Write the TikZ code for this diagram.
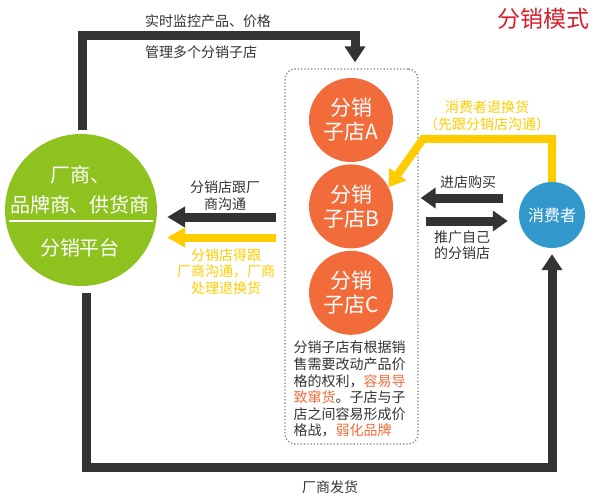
\documentclass[tikz,border=0pt]{standalone}
\usepackage{fontspec}
\setmainfont{Noto Sans CJK SC}
\usetikzlibrary{arrows.meta,positioning,calc}
\definecolor{inkgray}{HTML}{333333}
\definecolor{platgreen}{HTML}{8DC21F}
\definecolor{shoporange}{HTML}{F26B3A}
\definecolor{consblue}{HTML}{3399CC}
\definecolor{retyellow}{HTML}{FFCC00}
\definecolor{titlered}{HTML}{D81E2C}
\newcommand{\hl}[1]{{\color{shoporange}#1}}

\begin{document}
\begin{tikzpicture}[
  x=1pt, y=-1pt,
  every node/.style={inner sep=0pt, align=center, text=inkgray, font=\fontsize{14}{17}\selectfont},
  shop/.style={circle, fill=shoporange, minimum size=84pt, text=white, font=\fontsize{21}{24}\selectfont},
  bar/.style={draw=inkgray, line width=9pt, line join=miter, -{Triangle[length=16pt,width=20pt]}},
  retbar/.style={bar, draw=retyellow, line width=8pt},
  platlabel/.style={text=white, font=\fontsize{20}{30}\selectfont}
]
\useasboundingbox (0,0) rectangle (598,503);

\node[text=titlered, font=\fontsize{23}{26}\selectfont] (title) at (543,19) {分销模式};

\node[circle, fill=platgreen, minimum size=152pt] (plat) at (81,210) {};
\node[platlabel] (platname) at (80,190) {厂商、\\品牌商、供货商};
\draw[white, line width=1.2pt] ($(plat.center)+(-72,11)$) -- ($(plat.center)+(72,11)$);
\node[platlabel] (platrole) at (80,248) {分销平台};

\node[draw=gray, dotted, line width=1.3pt, rounded corners=10pt,
      minimum width=133pt, minimum height=375pt] (group) at (351.5,256.5) {};
\node[shop] (shopA) at (351,120) {分销\\子店A};
\node[shop, below=2pt of shopA] (shopB) {分销\\子店B};
\node[shop, below=2pt of shopB] (shopC) {分销\\子店C};
\node[below=6pt of shopC, text width=115pt, align=left, font=\fontsize{14}{16.6}\selectfont] (desc)
  {分销子店有根据销\\售需要改动产品价\\格的权利，\hl{容易导}\\\hl{致窜货}。子店与子\\店之间容易形成价\\格战，\hl{弱化品牌}};

\node[circle, fill=consblue, minimum size=66pt, text=white, font=\fontsize{16}{19}\selectfont] (cons) at (552,215) {消费者};

\coordinate (topR) at (355,36);
\draw[bar] ([xshift=1.5pt,yshift=4pt]plat.north) |- (topR) -- ([xshift=3.5pt,yshift=6pt]group.north);
\node (watch) at (208,21) {实时监控产品、价格};
\node[anchor=west] (manage) at (145,52) {管理多个分销子店};

\coordinate (botR) at (552,467.5);
\draw[bar] ([xshift=5pt,yshift=-7pt]plat.south) |- (botR) -- ([yshift=-6pt]cons.south);
\node (ship) at (330,487) {厂商发货};

\coordinate (retbend) at (423,139);
\draw[retbar] (cons.north) |- (retbend) -- (shopB.27);
\node[text=retyellow] (retlabel) at (487,116) {消费者退换货\\（先跟分销店沟通）};

\coordinate (askS) at ($(group.west)+(-8,-39.5)$);
\coordinate (askE) at ($(plat.east)+(10,7)$);
\coordinate (retS) at ($(askS)+(0,20.5)$);
\coordinate (retE) at ($(askE)+(0,20.5)$);
\draw[bar, -{Triangle[length=18pt,width=20pt]}] (askS) -- (askE);
\draw[retbar, -{Triangle[length=18pt,width=19pt]}] (retS) -- (retE);
\node (asklabel) at (225,195.5) {分销店跟厂\\商沟通};
\node[text=retyellow, font=\fontsize{14}{16.5}\selectfont] (retnote) at (226,271.5) {分销店得跟\\厂商沟通，厂商\\处理退换货};

\coordinate (buyS) at ($(cons.west)+(-16,-17)$);
\coordinate (buyE) at ($(group.east)+(2,-58.5)$);
\coordinate (promoS) at ($(group.east)+(7,-35.5)$);
\coordinate (promoE) at ($(cons.west)+(-11,6)$);
\draw[bar, -{Triangle[length=15pt,width=20pt]}] (buyS) -- (buyE);
\draw[bar, -{Triangle[length=15pt,width=20pt]}] (promoS) -- (promoE);
\node (buylabel) at (468,182) {进店购买};
\node[anchor=west, align=left, font=\fontsize{14}{16}\selectfont] (promolabel) at (434,245) {推广自己\\的分销店};
\end{tikzpicture}
\end{document}
